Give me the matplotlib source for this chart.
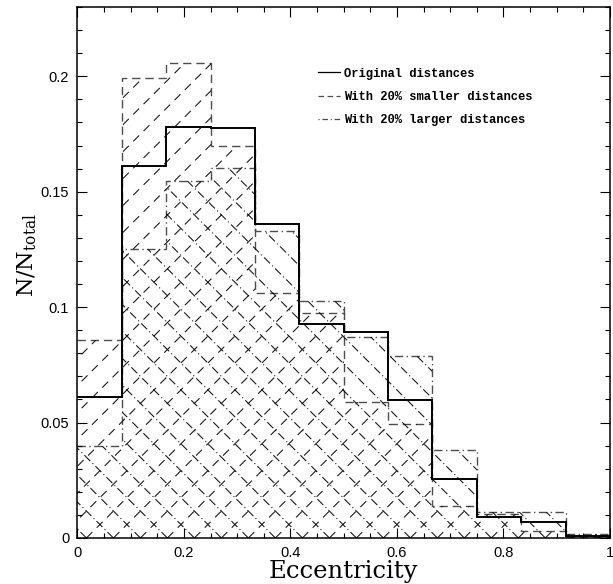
import numpy as np
import matplotlib
matplotlib.use("Agg")
import matplotlib.pyplot as plt
from matplotlib.collections import LineCollection
from matplotlib.lines import Line2D
from matplotlib.ticker import MultipleLocator, FuncFormatter

plt.rcParams['lines.scale_dashes'] = False
plt.rcParams['mathtext.fontset'] = 'dejavuserif'

# histogram data (fractions per bin)
n_bins = 12
edges = np.linspace(0, 1, n_bins + 1)
orig = [0.0612, 0.161, 0.178, 0.1776, 0.1358, 0.0929, 0.0893, 0.0597, 0.0255, 0.0093, 0.0068, 0.0010]
smaller = [0.0857, 0.1993, 0.2059, 0.1698, 0.1060, 0.0975, 0.0590, 0.0494, 0.0139, 0.0105, 0.0032, 0.0005]
larger = [0.0400, 0.1250, 0.1547, 0.1603, 0.1329, 0.1026, 0.0872, 0.0788, 0.0381, 0.0113, 0.0113, 0.0017]
labels = ["Original distances", "With 20% smaller distances", "With 20% larger distances"]

fig = plt.figure(figsize=(6.13, 5.84), dpi=100)
ax = fig.add_axes([0.1264, 0.0788, 0.8686, 0.9092])
ax.set_xlim(0, 1)
ax.set_ylim(0, 0.23)

dash_o = (0, (6, 3.5))
dashdot_o = (0, (6, 2.5, 1, 2.5))


def hatch(values, direction, ls):
    # invisible step patch used as clip region
    clip = ax.stairs(values, edges, baseline=0, fill=True,
                     facecolor='none', edgecolor='none')
    d = 0.0507
    segs = []
    for c in np.arange(-1.2, 2.2, d):
        if direction > 0:
            segs.append([(c, 0), (c + 1.2, 1.2)])
        else:
            segs.append([(c, 0), (c - 1.2, 1.2)])
    lc = LineCollection(segs, colors='0.05', linewidths=0.75,
                        linestyles=[ls], transform=ax.transAxes)
    ax.add_collection(lc)
    lc.set_clip_path(clip)


hatch(smaller, 1, (0, (6, 4.5)))
hatch(larger, -1, (0, (6, 2.2, 0.8, 2.2)))

ax.stairs(smaller, edges, baseline=None, color='0.3', lw=1.0, linestyle=dash_o)
ax.stairs(larger, edges, baseline=None, color='0.3', lw=1.0, linestyle=dashdot_o)
ax.stairs(orig, edges, baseline=None, color='black', lw=1.4)

handles = [Line2D([], [], color='black', lw=0.9),
           Line2D([], [], color='0.3', lw=0.9, linestyle=(0, (4, 2.5))),
           Line2D([], [], color='0.3', lw=0.9, linestyle=(0, (0.8, 2, 4, 2)))]
ax.legend(handles, labels, loc='upper left', bbox_to_anchor=(0.4516, 0.886),
          frameon=False, borderpad=0, borderaxespad=0, handlelength=1.8,
          handletextpad=0.35, labelspacing=0.95,
          prop={'family': 'Liberation Mono', 'weight': 'bold', 'size': 8.7})

ax.xaxis.set_major_locator(MultipleLocator(0.2))
ax.xaxis.set_minor_locator(MultipleLocator(0.05))
ax.yaxis.set_major_locator(MultipleLocator(0.05))
ax.yaxis.set_minor_locator(MultipleLocator(0.01))
fmt = FuncFormatter(lambda v, p: '%g' % round(v, 4))
ax.xaxis.set_major_formatter(fmt)
ax.yaxis.set_major_formatter(fmt)
ax.tick_params(which='both', direction='in', top=True, right=True, width=0.8)
ax.tick_params(which='major', length=7)
ax.tick_params(which='minor', length=3.5)
ax.tick_params(axis='x', pad=6)
ax.tick_params(axis='y', pad=6)
for lab in ax.get_xticklabels() + ax.get_yticklabels():
    lab.set_family('Liberation Sans')
    lab.set_fontsize(10.5)
for s in ax.spines.values():
    s.set_linewidth(1.1)

ax.set_xlabel("Eccentricity", family='DejaVu Serif', fontsize=17.5, labelpad=0)
ax.set_ylabel(r"N/N$_{\mathregular{total}}$", family='DejaVu Serif', fontsize=16)
ax.yaxis.set_label_coords(-0.072, 0.533)

fig.savefig("out.png", dpi=100)
